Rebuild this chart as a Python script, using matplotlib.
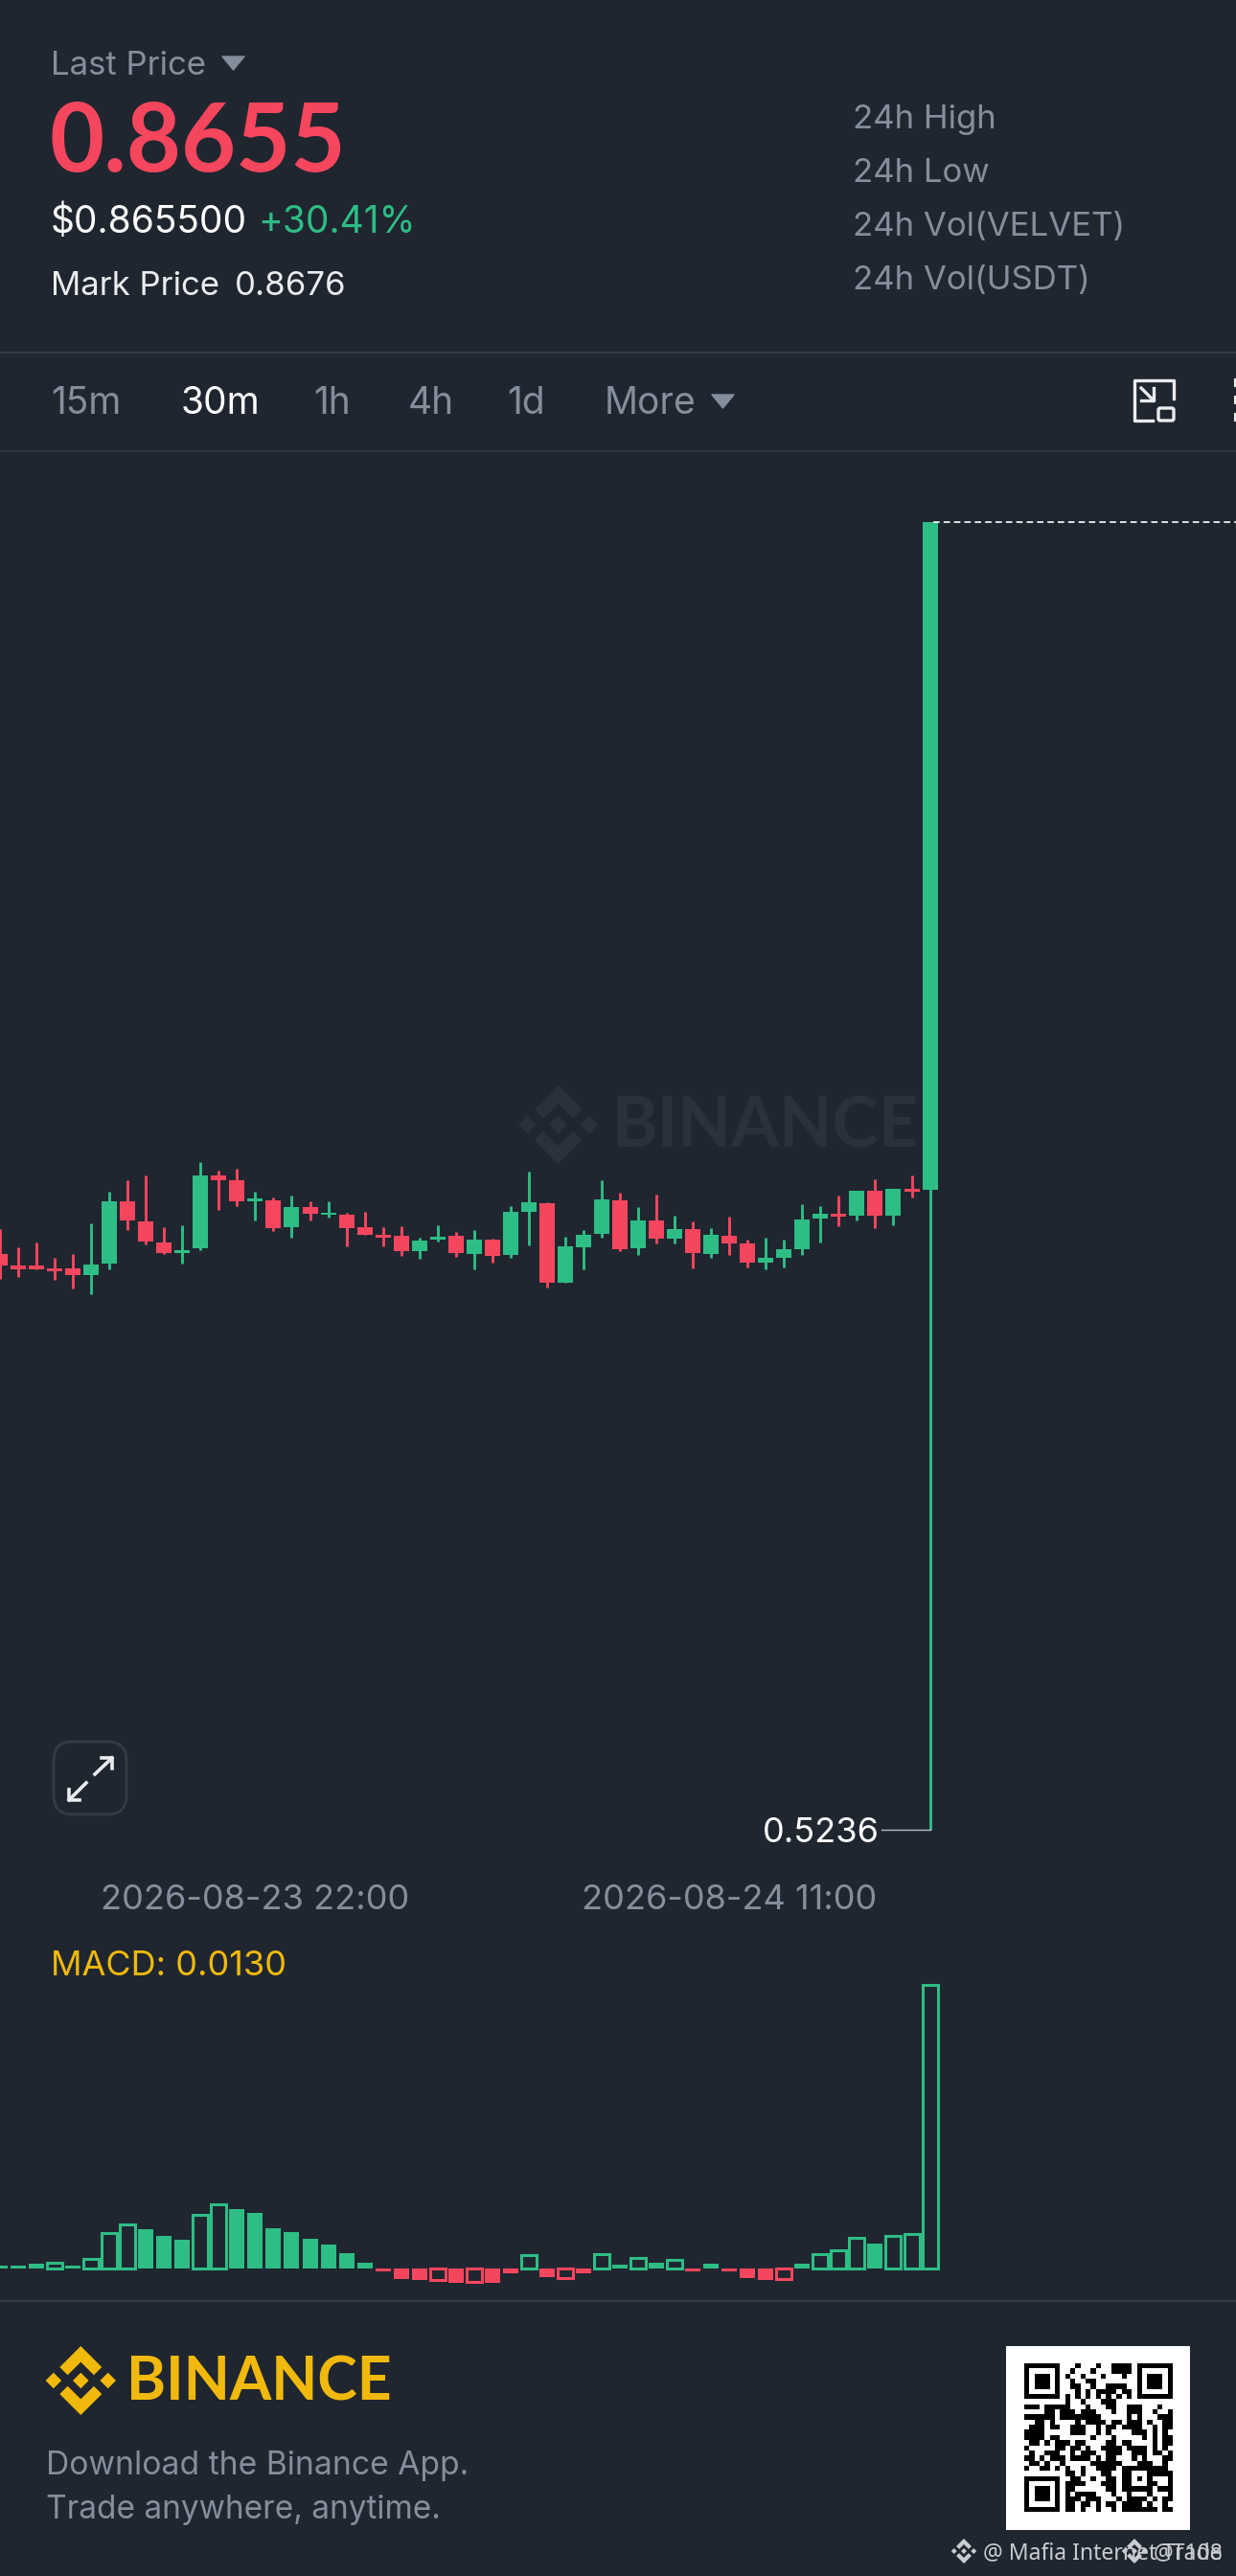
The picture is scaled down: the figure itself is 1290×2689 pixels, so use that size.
#!/usr/bin/env python3
# -*- coding: utf-8 -*-
import matplotlib
matplotlib.use('Agg')
import matplotlib.pyplot as plt
from matplotlib.patches import Polygon, FancyBboxPatch
import numpy as np

W, H = 1290, 2689
BG = '#1f2630'
GREEN = '#2ebd85'
RED = '#f6465d'
GREY = '#848e9c'
LINE = '#333a46'
YELLOW = '#f0b90b'

plt.rcParams['font.family'] = ['Inter', 'Lato', 'DejaVu Sans']

# candles, 30m bars
opens = [0.67417, 0.67100, 0.67100, 0.67041, 0.67024, 0.66849, 0.67166, 0.68778, 0.68269, 0.67718,
         0.67434, 0.67551, 0.69471, 0.69346, 0.68786, 0.68811, 0.68118, 0.68628, 0.68427, 0.68444,
         0.68102, 0.67918, 0.67876, 0.67484, 0.67776, 0.67885, 0.67417, 0.67784, 0.67384, 0.68511,
         0.68736, 0.66665, 0.67592, 0.67926, 0.68811, 0.67559, 0.68294, 0.67801, 0.68060, 0.67409,
         0.67885, 0.67684, 0.67183, 0.67317, 0.67525, 0.68344, 0.68452, 0.68402, 0.69070, 0.68419,
         0.69120, 0.69087]
closes = [0.67108, 0.67016, 0.67008, 0.66958, 0.66857, 0.67141, 0.68778, 0.68285, 0.67726, 0.67434,
          0.67517, 0.69463, 0.69346, 0.68786, 0.68870, 0.68093, 0.68628, 0.68452, 0.68494, 0.68093,
          0.67918, 0.67843, 0.67484, 0.67759, 0.67868, 0.67425, 0.67776, 0.67367, 0.68519, 0.68770,
          0.66665, 0.67617, 0.67910, 0.68828, 0.67542, 0.68277, 0.67801, 0.68068, 0.67442, 0.67910,
          0.67684, 0.67183, 0.67308, 0.67525, 0.68310, 0.68452, 0.68377, 0.69070, 0.68402, 0.69112,
          0.69037, 0.86550]
highs = [0.68052, 0.67576, 0.67709, 0.67300, 0.67400, 0.68202, 0.69037, 0.69329, 0.69454, 0.68102,
         0.68168, 0.69805, 0.69596, 0.69630, 0.69037, 0.68895, 0.68928, 0.68795, 0.68778, 0.68486,
         0.68519, 0.68102, 0.68135, 0.67834, 0.68168, 0.67985, 0.68026, 0.67818, 0.68669, 0.69571,
         0.68753, 0.67851, 0.68035, 0.69337, 0.69012, 0.68628, 0.68953, 0.68419, 0.68252, 0.68093,
         0.68377, 0.67793, 0.67826, 0.67784, 0.68720, 0.68661, 0.68928, 0.69070, 0.69354, 0.69112,
         0.69463, 0.86550]
lows = [0.66757, 0.66816, 0.67008, 0.66724, 0.66515, 0.66356, 0.66999, 0.68035, 0.67667, 0.67417,
        0.67150, 0.67517, 0.68569, 0.68669, 0.68277, 0.68010, 0.67843, 0.68285, 0.68352, 0.67609,
        0.67918, 0.67609, 0.67367, 0.67283, 0.67743, 0.67342, 0.66999, 0.67191, 0.67308, 0.67634,
        0.66540, 0.66665, 0.67008, 0.67843, 0.67492, 0.67392, 0.67692, 0.67684, 0.67041, 0.67300,
        0.67375, 0.67050, 0.67016, 0.67050, 0.67392, 0.67709, 0.68135, 0.68294, 0.68093, 0.68168,
        0.68878, 0.52360]

macd_hist = [0.00013, 0.00013, 0.00021, 0.00025, 0.00013, 0.00042, 0.00160, 0.00201, 0.00180, 0.00149,
             0.00132, 0.00243, 0.00293, 0.00271, 0.00253, 0.00185, 0.00166, 0.00135, 0.00110, 0.00067,
             0.00025, -0.00016, -0.00048, -0.00053, -0.00053, -0.00069, -0.00062, -0.00069, -0.00022, 0.00062,
             -0.00040, -0.00045, -0.00022, 0.00063, 0.00018, 0.00048, 0.00023, 0.00037, -0.00016, 0.00021,
             -0.00016, -0.00044, -0.00054, -0.00051, 0.00019, 0.00064, 0.00084, 0.00138, 0.00114, 0.00149,
             0.00158, 0.01300]
macd_hollow = [3, 5, 6, 7, 11, 12, 24, 26, 29, 31, 33, 35, 37, 43, 45, 46, 47, 49, 50, 51]

date_ticks = [14, 40]
date_labels = ['2026-08-23 22:00', '2026-08-24 11:00']

tabs = ['15m', '30m', '1h', '4h', '1d', 'More']
tab_x = [53, 189, 327, 426, 529, 631]
stat_labels = ['24h High', '24h Low', '24h Vol(VELVET)', '24h Vol(USDT)']
stat_y = [134, 190, 246, 302]

# black runs per row of the QR code
qr_runs = [
    [(0,6),(10,10),(14,14),(17,20),(22,28)],
    [(0,0),(6,6),(9,9),(13,13),(17,20),(22,22),(28,28)],
    [(0,0),(2,4),(6,6),(8,8),(11,11),(15,15),(19,19),(22,22),(24,26),(28,28)],
    [(0,0),(2,4),(6,6),(9,9),(12,13),(22,22),(24,26),(28,28)],
    [(0,0),(2,4),(6,6),(9,10),(13,13),(16,19),(22,22),(24,26),(28,28)],
    [(0,0),(6,6),(10,10),(12,12),(14,17),(19,20),(22,22),(28,28)],
    [(0,6),(8,8),(10,10),(12,12),(14,14),(16,16),(18,18),(20,20),(22,28)],
    [(8,8),(11,11),(15,17)],
    [(0,2),(4,8),(12,12),(16,17),(20,22),(26,26)],
    [(4,5),(7,9),(11,13),(17,17),(20,22),(25,25),(28,28)],
    [(0,5),(7,14),(20,20),(22,22),(26,28)],
    [(2,3),(5,5),(10,10),(12,15),(17,18),(20,22),(24,24),(27,28)],
    [(1,3),(5,6),(9,11),(14,14),(16,17),(19,22),(25,25),(27,28)],
    [(0,3),(9,11),(14,14),(16,16),(21,23),(25,25),(27,27)],
    [(0,3),(5,6),(13,13),(17,17),(23,23),(25,25),(27,28)],
    [(1,2),(4,4),(6,8),(10,11),(16,17),(19,20),(25,25),(27,28)],
    [(0,0),(6,7),(9,10),(12,12),(15,18),(20,23),(25,25),(27,27)],
    [(1,1),(4,6),(9,9),(11,13),(16,18),(21,23),(25,26),(28,28)],
    [(0,1),(3,3),(5,7),(9,12),(14,14),(16,17),(21,21),(23,23),(27,28)],
    [(1,2),(4,4),(7,7),(13,18),(22,24),(27,27)],
    [(0,0),(3,4),(6,6),(8,8),(11,11),(14,17),(19,26),(27,27)],
    [(8,9),(11,11),(15,16),(19,20),(24,25),(26,28)],
    [(0,6),(9,10),(13,13),(16,17),(19,20),(22,22),(24,24),(28,28)],
    [(0,0),(6,6),(8,11),(15,17),(19,20),(24,25),(28,28)],
    [(0,0),(2,4),(6,6),(8,9),(16,17),(19,24),(26,28)],
    [(0,0),(2,4),(6,6),(8,8),(10,13),(17,17),(20,20),(24,24),(28,28)],
    [(0,0),(2,4),(6,6),(8,10),(12,14),(18,18),(20,23),(25,25),(27,28)],
    [(0,0),(6,6),(8,9),(11,12),(14,14),(16,17),(19,22),(24,24),(27,27)],
    [(0,6),(8,9),(11,11),(14,14),(17,17),(19,25),(27,28)],
]


def px_axes(fig, top, bottom, z):
    ax = fig.add_axes([0, 1 - bottom / H, 1, (bottom - top) / H], zorder=z)
    ax.patch.set_visible(False)
    for s in ax.spines.values():
        s.set_visible(False)
    return ax


def logo(ax, cx, cy, R, color, **kw):
    small = np.array([[0, -0.23], [0.23, 0], [0, 0.23], [-0.23, 0]])
    top = np.array([[0, -1], [0.61, -0.39], [0.38, -0.16], [0, -0.537], [-0.38, -0.16], [-0.61, -0.39]])
    bottom = top * [1, -1]
    parts = [small, small + [0.79, 0], small - [0.79, 0], top, bottom]
    for p in parts:
        ax.add_patch(Polygon(p * R + [cx, cy], closed=True, fc=color, ec='none', **kw))


def txt(ax, x, y, s, size, color, ha='left', weight='normal', **kw):
    return ax.text(x, y, s, fontsize=size, color=color, ha=ha, va='baseline', fontweight=weight, **kw)


fig = plt.figure(figsize=(W / 100, H / 100), dpi=100, facecolor=BG)

# page furniture, in screen pixels
ui = px_axes(fig, 0, H, 0)
ui.set_xlim(0, W)
ui.set_ylim(H, 0)
ui.axis('off')

txt(ui, 53, 78, 'Last Price', 25, GREY)
ui.add_patch(Polygon([[232, 59], [255, 59], [243.5, 73]], fc=GREY, ec=GREY, lw=1, joinstyle='round'))
txt(ui, 51, 179, '0.8655', 71, RED, weight='bold', family=['Lato', 'DejaVu Sans'])
txt(ui, 53, 243, '$0.865500', 28, 'white')
txt(ui, 269, 243, '+30.41%', 28, GREEN)
txt(ui, 53, 308, 'Mark Price', 25, '#eaecef')
txt(ui, 245, 308, '0.8676', 25, '#eaecef')
for s, y in zip(stat_labels, stat_y):
    txt(ui, 890, y, s, 25, GREY)

ui.axhline(368, color=LINE, lw=1.6)
ui.axhline(471, color=LINE, lw=1.2)
ui.axhline(2402, color=LINE, lw=1.6)

for s, x in zip(tabs, tab_x):
    if s == '30m':
        txt(ui, x, 432, s, 28, 'white')
    else:
        txt(ui, x, 432, s, 28, GREY)
ui.add_patch(Polygon([[743, 412], [766, 412], [754.5, 426]], fc=GREY, ec=GREY, lw=1, joinstyle='round'))

# window icon
ui.plot([1203, 1184, 1184, 1225, 1225], [439, 439, 397, 397, 416], color='#eaecef', lw=2.4, solid_joinstyle='round')
ui.add_patch(FancyBboxPatch((1209, 426), 16, 13, boxstyle='round,pad=0,rounding_size=2', fc='none', ec='#eaecef', lw=2.4))
ui.plot([1191, 1204], [405, 418], color='#eaecef', lw=2.4)
ui.plot([1191, 1204, 1204], [418, 418, 405], color='#eaecef', lw=2.4)
ui.plot([1289, 1289], [396, 403], color='#eaecef', lw=1.5)
ui.plot([1289, 1289], [414, 421], color='#eaecef', lw=1.5)
ui.plot([1289, 1289], [432, 439], color='#eaecef', lw=1.5)

# chart watermark
logo(ui, 582.7, 1174, 41, '#2a313c')
txt(ui, 638, 1197, 'BINANCE', 52, '#2a313c', weight='bold', family=['Lato', 'DejaVu Sans'])

# expand button
ui.add_patch(FancyBboxPatch((56, 1818), 76, 76, boxstyle='round,pad=0,rounding_size=20', fc='none', ec=LINE, lw=2.2))
ui.plot([99, 117], [1852, 1835], color='#eaecef', lw=2.6)
ui.plot([106, 117, 117], [1835, 1835, 1846], color='#eaecef', lw=2.6)
ui.plot([90, 72], [1861, 1879], color='#eaecef', lw=2.6)
ui.plot([72, 72, 83], [1868, 1879, 1879], color='#eaecef', lw=2.6)

txt(ui, 53, 2062, 'MACD: 0.0130', 26, YELLOW)

# footer
logo(ui, 84.3, 2485, 36, YELLOW)
txt(ui, 132, 2505, 'BINANCE', 45, YELLOW, weight='bold', family=['Lato', 'DejaVu Sans'])
txt(ui, 48, 2583, 'Download the Binance App.', 24.2, GREY)
txt(ui, 48, 2629, 'Trade anywhere, anytime.', 24, GREY)

ui.add_patch(plt.Rectangle((1050, 2449), 192, 192, fc='white', ec='none'))
qr = np.ones((29, 29))
for r, runs in enumerate(qr_runs):
    for a, b in runs:
        qr[r, a:b + 1] = 0
ui.imshow(qr, cmap='gray', vmin=0, vmax=1, extent=(1068.7, 1223.3, 2622, 2467.3), interpolation='nearest', aspect='auto', zorder=3)
ui.set_xlim(0, W)
ui.set_ylim(H, 0)

MARK = '#c9ccd1'
logo(ui, 1006, 2663, 13, MARK)
logo(ui, 1184, 2663, 13, MARK)
txt(ui, 1026, 2671, '@ Mafia Internet Trade', 16.5, MARK, family=['Noto Sans', 'DejaVu Sans'])
txt(ui, 1204, 2671, '@T108', 16.5, MARK, family=['Noto Sans', 'DejaVu Sans'])

# candles: 19.03 px a bar, first one at x=0
STEP = 19.03
xlim = (0, W / STEP)
top, bottom = 470, 1960
PRICE_PER_PX = 0.0002505
ax = px_axes(fig, top, bottom, 1)
ax.set_xlim(*xlim)
ax.set_ylim(0.8655 - (bottom - 545) * PRICE_PER_PX, 0.8655 - (top - 545) * PRICE_PER_PX)

x = np.arange(len(opens))
colors = [GREEN if c >= o else RED for o, c in zip(opens, closes)]
ax.vlines(x, lows, highs, color=colors, lw=2.1)
ax.bar(x, np.abs(np.array(closes) - np.array(opens)), bottom=np.minimum(opens, closes),
       width=16 / STEP, color=colors, linewidth=0)
ax.plot([x[-1] + 0.2, xlim[1]], [highs[-1], highs[-1]], color='white', lw=1.2, ls=(0, (4, 2.5)))
ax.plot([x[-1] - 2.65, x[-1]], [lows[-1], lows[-1]], color='#b7bdc6', lw=1)
ax.text(x[-1] - 2.75, lows[-1] - 0.001, '%.4f' % lows[-1], color='white', fontsize=26, ha='right', va='center')
ax.set_yticks([])
ax.set_xticks(date_ticks)
ax.set_xticklabels(date_labels, fontsize=26, color=GREY)
ax.tick_params(axis='x', length=0, pad=5)

# MACD histogram
top2, bottom2 = 2060, 2400
VAL_PER_PX = 0.000044
ax2 = px_axes(fig, top2, bottom2, 1)
ax2.set_xlim(*xlim)
ax2.set_ylim((2367.7 - bottom2) * VAL_PER_PX, (2367.7 - top2) * VAL_PER_PX)
ax2.axis('off')
for i, v in enumerate(macd_hist):
    c = GREEN if v >= 0 else RED
    if i in macd_hollow:
        ax2.bar(i, v, width=16 / STEP, facecolor='none', edgecolor=c, linewidth=2.2)
    else:
        ax2.bar(i, v, width=16 / STEP, color=c, linewidth=0)

fig.savefig('out.png', dpi=100, facecolor=BG)
